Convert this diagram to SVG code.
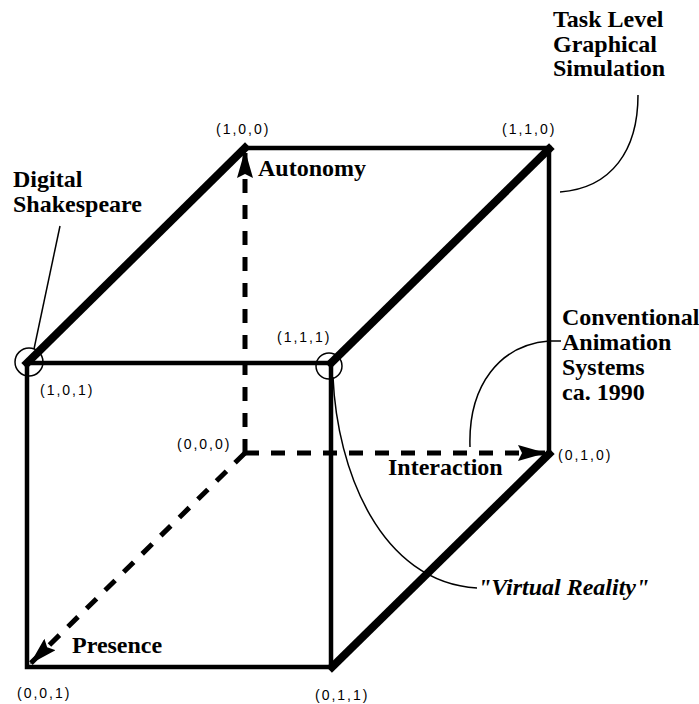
<svg xmlns="http://www.w3.org/2000/svg" width="699" height="704" viewBox="0 0 699 704">
<style>
.coord{font-family:"Liberation Sans",Arial,sans-serif;font-size:14px;letter-spacing:2px;fill:#000}
.lbl{font-family:"Liberation Serif","Times New Roman",serif;font-size:24px;font-weight:bold;fill:#000}
.ital{font-style:italic}
.edge{stroke:#000;fill:none;stroke-linecap:square}
.thin{stroke-width:4.5}
.thick{stroke-width:8}
.axis{stroke:#000;stroke-width:5;fill:none;stroke-dasharray:14 12}
.lead{stroke:#000;stroke-width:1.5;fill:none}
.ring{stroke:#000;stroke-width:1.5;fill:none}
</style>
<defs>
<marker id="arr" markerUnits="userSpaceOnUse" markerWidth="28" markerHeight="16" refX="28" refY="8" orient="auto" viewBox="0 0 28 16">
<path d="M0,0 L28,8 L0,16 L4,8 Z" fill="#000"/>
</marker>
</defs>
<rect width="699" height="704" fill="#fff"/>
<g id="connectors">
<line class="edge thin" x1="245" y1="148" x2="549" y2="148"/>
<line class="edge thin" x1="549" y1="148" x2="549" y2="454"/>
<rect class="edge thin" x="27" y="363" width="304" height="304"/>
<line class="edge thick" x1="27" y1="363" x2="245" y2="148"/>
<line class="edge thick" x1="331" y1="363" x2="549" y2="149"/>
<line class="edge thick" x1="332" y1="667" x2="549" y2="454"/>
<line class="axis" x1="245" y1="453" x2="245" y2="150" marker-end="url(#arr)"/>
<line class="axis" x1="245" y1="453" x2="546" y2="453" marker-end="url(#arr)"/>
<line class="axis" x1="245" y1="453" x2="30" y2="664" marker-end="url(#arr)"/>
<line class="lead" x1="60" y1="226" x2="34" y2="349"/>
<path class="lead" d="M638 95 C638 150 612 188 560 192"/>
<path class="lead" d="M561 341 L549 341 C500 345 468 385 470 447"/>
<path class="lead" d="M333 377 C337 470 380 582 477 588"/>
</g>
<g id="v100"><text class="coord" x="216" y="134">(1,0,0)</text></g>
<g id="v110"><text class="coord" x="502" y="134">(1,1,0)</text></g>
<g id="v101"><circle class="ring" cx="29" cy="362" r="14"/><text class="coord" x="40" y="395">(1,0,1)</text></g>
<g id="v111"><circle class="ring" cx="329" cy="366" r="13"/><text class="coord" x="277" y="342">(1,1,1)</text></g>
<g id="v000"><text class="coord" x="177" y="449">(0,0,0)</text></g>
<g id="v010"><text class="coord" x="558" y="460">(0,1,0)</text></g>
<g id="v001"><text class="coord" x="17" y="698">(0,0,1)</text></g>
<g id="v011"><text class="coord" x="315" y="700">(0,1,1)</text></g>
<g id="digital-shakespeare"><text class="lbl" x="13" y="187">Digital</text><text class="lbl" x="13" y="212">Shakespeare</text></g>
<g id="task-level"><text class="lbl" x="553" y="27">Task Level</text><text class="lbl" x="553" y="52">Graphical</text><text class="lbl" x="553" y="76">Simulation</text></g>
<g id="autonomy"><text class="lbl" x="258" y="176">Autonomy</text></g>
<g id="conventional"><text class="lbl" x="562" y="325">Conventional</text><text class="lbl" x="562" y="350">Animation</text><text class="lbl" x="562" y="375">Systems</text><text class="lbl" x="562" y="400">ca. 1990</text></g>
<g id="interaction"><text class="lbl" x="388" y="475">Interaction</text></g>
<g id="presence"><text class="lbl" x="72" y="653">Presence</text></g>
<g id="virtual-reality"><text class="lbl ital" x="478" y="595">"Virtual Reality"</text></g>
</svg>
